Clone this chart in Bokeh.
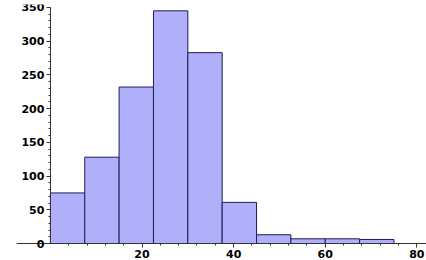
from bokeh.plotting import figure
from bokeh.models import Range1d, FixedTicker
from bokeh.embed import file_html
from bokeh.resources import INLINE

bin_left = [0, 7.5, 15, 22.5, 30, 37.5, 45, 52.5, 60, 67.5]
bin_right = [7.5, 15, 22.5, 30, 37.5, 45, 52.5, 60, 67.5, 75]
counts = [75, 128, 232, 345, 283, 61, 13, 7, 7, 6]
x_ticks = [20, 40, 60, 80]
y_ticks = [0, 50, 100, 150, 200, 250, 300, 350]

p = figure(width=426, height=260, output_backend="svg", toolbar_location=None,
           x_range=Range1d(-7.4, 82.1), y_range=Range1d(-25.2, 354.4),
           min_border_left=16, min_border_right=0, min_border_top=4, min_border_bottom=0)
p.grid.visible = False
p.outline_line_color = None
p.background_fill_color = "white"

p.quad(left=bin_left, right=bin_right, bottom=0, top=counts,
       fill_color="#b0b0fa", line_color="#1c1c5a", line_width=1)

font = "DejaVu Sans"
for ax in (p.xaxis[0], p.yaxis[0]):
    ax.major_label_text_font = font
    ax.major_label_text_font_style = "bold"
    ax.major_label_text_font_size = "11px"
    ax.major_label_text_color = "black"
    ax.axis_line_color = "#333333"
    ax.major_tick_line_color = "#333333"
    ax.minor_tick_line_color = "#333333"
    ax.major_tick_out = 4
    ax.major_tick_in = 0
    ax.minor_tick_out = 2
    ax.minor_tick_in = 0
    ax.major_label_standoff = 2

p.xaxis[0].ticker = FixedTicker(ticks=x_ticks, minor_ticks=[v for v in range(4, 84, 4)])
p.yaxis[0].ticker = FixedTicker(ticks=y_ticks, minor_ticks=list(range(0, 360, 10)))
p.yaxis[0].fixed_location = 0
p.xaxis[0].fixed_location = 0
p.yaxis[0].bounds = (0, 350)

open("out.html", "w").write(file_html(p, INLINE))
